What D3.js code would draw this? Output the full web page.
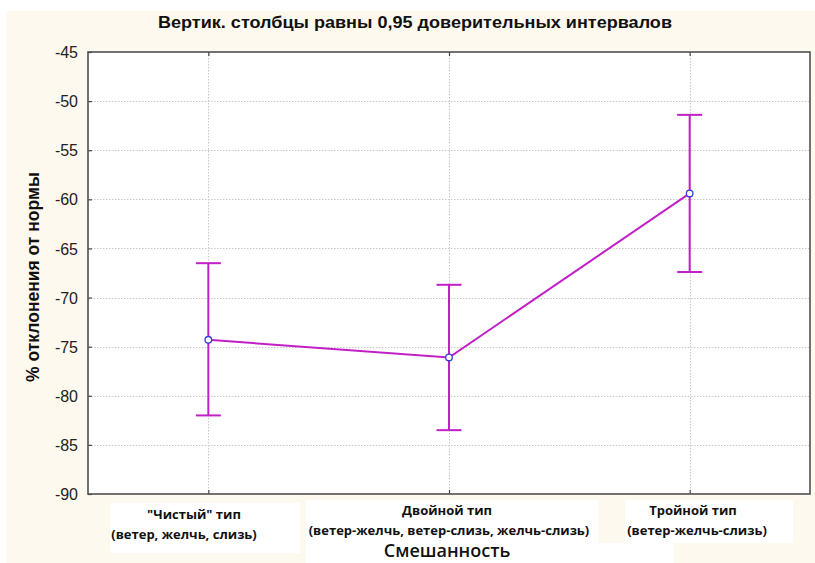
<!DOCTYPE html>
<html>
<head>
<meta charset="utf-8">
<script src="https://cdn.jsdelivr.net/npm/d3@7"></script>
<style>
  html, body { margin: 0; padding: 0; background: #ffffff; }
  svg { display: block; }
</style>
</head>
<body>
<svg id="chart" width="815" height="563"></svg>
<script>
// Mixing type groups and their means with 0.95 confidence bounds
const categories = ["chist", "dvoin", "troin"];
const labelLine1 = ["\"Чистый\" тип", "Двойной тип", "Тройной тип"];
const labelLine2 = ["(ветер, желчь, слизь)", "(ветер-желчь, ветер-слизь, желчь-слизь)", "(ветер-желчь-слизь)"];
const means = [-74.3, -76.1, -59.4];
const lower = [-82.0, -83.5, -67.4];
const upper = [-66.5, -68.7, -51.4];
const yTicks = [-45, -50, -55, -60, -65, -70, -75, -80, -85, -90];

const titleText = "Вертик. столбцы равны 0,95 доверительных интервалов";
const yTitle = "% отклонения от нормы";
const xTitle = "Смешанность";

const svg = d3.select("#chart");
const W = 815, H = 563;
const plot = { left: 88, top: 52, right: 810, bottom: 494 };

// panel background
svg.append("rect").attr("x", 6).attr("y", 11).attr("width", W - 6).attr("height", H - 11)
  .attr("fill", "#fdf9ee");

const x = d3.scalePoint().domain(categories).range([plot.left, plot.right]).padding(0.5);
const y = d3.scaleLinear().domain([-90, -45]).range([plot.bottom, plot.top]);

// plot area
svg.append("rect").attr("x", plot.left).attr("y", plot.top)
  .attr("width", plot.right - plot.left).attr("height", plot.bottom - plot.top)
  .attr("fill", "#ffffff");

// grid
const grid = svg.append("g").attr("stroke", "#c8c8c8").attr("stroke-width", 1).attr("stroke-dasharray", "1.5,1.5");
grid.selectAll("line.h").data(yTicks.filter(t => t > -90 && t < -45)).join("line")
  .attr("x1", plot.left).attr("x2", plot.right)
  .attr("y1", d => Math.round(y(d)) + 0.5).attr("y2", d => Math.round(y(d)) + 0.5);
grid.selectAll("line.v").data(categories).join("line")
  .attr("y1", plot.top).attr("y2", plot.bottom)
  .attr("x1", d => Math.round(x(d)) + 0.5).attr("x2", d => Math.round(x(d)) + 0.5);

// left axis (plain hyphen-minus labels)
const yAxis = d3.axisLeft(y).tickValues(yTicks).tickSize(-4).tickPadding(10).tickFormat(d => String(d));
const gy = svg.append("g").attr("transform", `translate(${plot.left},0)`).call(yAxis);
gy.select(".domain").remove();
gy.selectAll(".tick line").attr("stroke", "#444").attr("stroke-width", 1.2);
gy.selectAll(".tick text").attr("font-family", "Liberation Sans, Arial, sans-serif")
  .attr("font-size", 16).attr("fill", "#222").attr("dy", "0.35em");

// category ticks on bottom and top
const xAxisB = d3.axisBottom(x).tickSize(-4).tickFormat("");
const gxb = svg.append("g").attr("transform", `translate(0,${plot.bottom})`).call(xAxisB);
gxb.select(".domain").remove();
gxb.selectAll(".tick line").attr("stroke", "#444").attr("stroke-width", 1.2);
const xAxisT = d3.axisTop(x).tickSize(-4).tickFormat("");
const gxt = svg.append("g").attr("transform", `translate(0,${plot.top})`).call(xAxisT);
gxt.select(".domain").remove();
gxt.selectAll(".tick line").attr("stroke", "#444").attr("stroke-width", 1.2);

// frame
svg.append("rect").attr("x", plot.left).attr("y", plot.top)
  .attr("width", plot.right - plot.left).attr("height", plot.bottom - plot.top)
  .attr("fill", "none").attr("stroke", "#505050").attr("stroke-width", 1.6);

// error bars
const purple = "#c21fc8";
const eb = svg.append("g").attr("stroke", purple).attr("stroke-width", 2).attr("fill", "none");
categories.forEach((c, i) => {
  const cx = x(c);
  eb.append("line").attr("x1", cx).attr("x2", cx).attr("y1", y(upper[i])).attr("y2", y(lower[i]));
  eb.append("line").attr("x1", cx - 12.5).attr("x2", cx + 12.5).attr("y1", y(upper[i])).attr("y2", y(upper[i]));
  eb.append("line").attr("x1", cx - 12.5).attr("x2", cx + 12.5).attr("y1", y(lower[i])).attr("y2", y(lower[i]));
});

// mean line
const line = d3.line().x((d, i) => x(categories[i])).y(d => y(d));
svg.append("path").datum(means).attr("d", line)
  .attr("fill", "none").attr("stroke", purple).attr("stroke-width", 2);

// mean markers
svg.selectAll("circle.m").data(means).join("circle")
  .attr("cx", (d, i) => x(categories[i])).attr("cy", d => y(d)).attr("r", 3.3)
  .attr("fill", "#ffffff").attr("stroke", "#3a3ad8").attr("stroke-width", 1.3);

// title
svg.append("text").attr("x", 415).attr("y", 28).attr("text-anchor", "middle")
  .attr("font-family", "Liberation Sans Narrow, Liberation Sans, Arial, sans-serif").attr("font-weight", "bold")
  .attr("font-size", 17).attr("fill", "#111")
  .attr("textLength", 514).attr("lengthAdjust", "spacingAndGlyphs")
  .text(titleText);

// y title
svg.append("text").attr("transform", `translate(39,${(plot.top + plot.bottom) / 2 + 4}) rotate(-90)`)
  .attr("text-anchor", "middle")
  .attr("font-family", "Liberation Sans, Arial, sans-serif").attr("font-weight", "bold")
  .attr("font-size", 17.5).attr("fill", "#111").text(yTitle);

// category label boxes
const boxes = [
  { x0: 110, x1: 300, y0: 503, y1: 553 },
  { x0: 306, x1: 598, y0: 500, y1: 543 },
  { x0: 625, x1: 793, y0: 500, y1: 543 }
];
boxes.forEach(b => {
  svg.append("rect").attr("x", b.x0).attr("y", b.y0).attr("width", b.x1 - b.x0).attr("height", b.y1 - b.y0)
    .attr("fill", "#ffffff");
});
svg.append("rect").attr("x", 306).attr("y", 543).attr("width", 368).attr("height", 20).attr("fill", "#ffffff");

const labelFont = "Open Sans, Noto Sans, sans-serif";
const cx1 = [194, 447, 693];
const cx2 = [184, 449, 697];
const ly1 = [519, 515, 515];
const ly2 = [539, 535, 535];
categories.forEach((c, i) => {
  svg.append("text").attr("x", cx1[i]).attr("y", ly1[i]).attr("text-anchor", "middle")
    .attr("font-family", labelFont).attr("font-weight", "bold").attr("font-size", 13).attr("fill", "#111")
    .text(labelLine1[i]);
  svg.append("text").attr("x", cx2[i]).attr("y", ly2[i]).attr("text-anchor", "middle")
    .attr("font-family", labelFont).attr("font-weight", "bold").attr("font-size", 13).attr("fill", "#111")
    .text(labelLine2[i]);
});

// x title
svg.append("text").attr("x", 447).attr("y", 557).attr("text-anchor", "middle")
  .attr("font-family", labelFont).attr("font-weight", 600).attr("font-size", 18).attr("fill", "#111")
  .text(xTitle);
</script>
</body>
</html>
